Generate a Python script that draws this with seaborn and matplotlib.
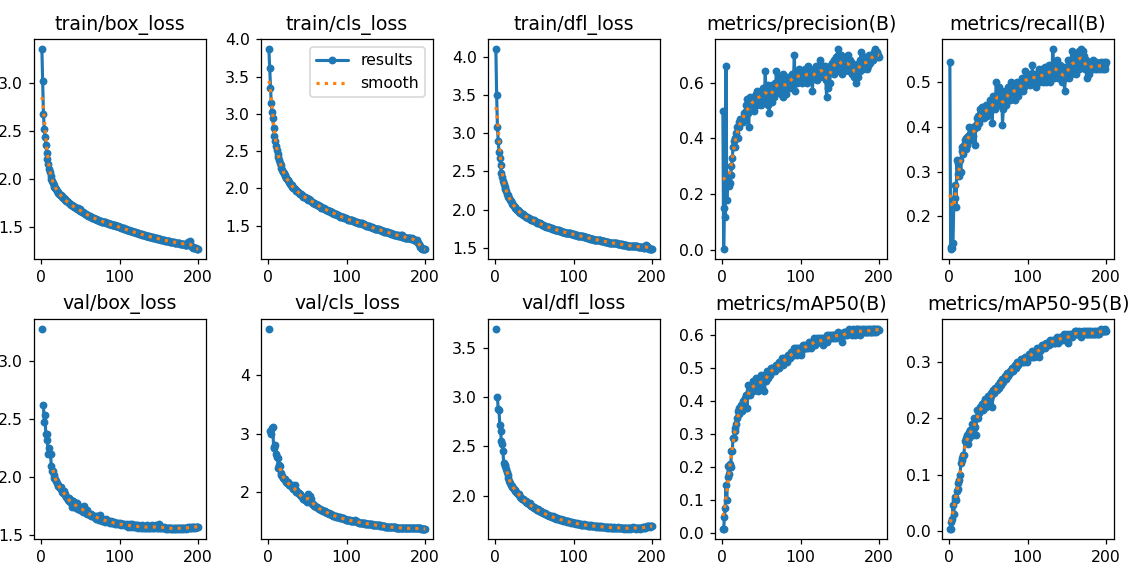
import numpy as np
import pandas as pd
import matplotlib
matplotlib.use("Agg")
import matplotlib.pyplot as plt
import seaborn as sns

nan = np.nan
epochs = list(range(1, 201))

titles = ['train/box_loss', 'train/cls_loss', 'train/dfl_loss', 'metrics/precision(B)', 'metrics/recall(B)',
          'val/box_loss', 'val/cls_loss', 'val/dfl_loss', 'metrics/mAP50(B)', 'metrics/mAP50-95(B)']

train_box_loss = [
    3.35, 3.02, 2.68, 2.52, 2.44, 2.35, 2.27, 2.21, 2.16, 2.11,
    2.07, 2.03, 2.00, 1.98, 1.96, 1.94, 1.92, 1.91, 1.90, 1.88,
    1.87, 1.86, 1.85, 1.84, 1.83, 1.82, 1.81, 1.80, 1.80, 1.79,
    1.78, 1.77, 1.77, 1.76, 1.75, 1.75, 1.74, 1.73, 1.73, 1.72,
    1.72, 1.71, 1.71, 1.70, 1.70, 1.69, 1.70, 1.68, 1.69, 1.67,
    1.67, 1.66, 1.66, 1.65, 1.65, 1.64, 1.64, 1.63, 1.63, 1.62,
    1.62, 1.62, 1.61, 1.61, 1.60, 1.60, 1.60, 1.59, 1.59, 1.59,
    1.58, 1.58, 1.58, 1.57, 1.57, 1.57, 1.56, 1.56, 1.56, 1.55,
    1.55, 1.55, 1.54, 1.54, 1.54, 1.53, 1.53, 1.53, 1.53, 1.52,
    1.52, 1.52, 1.52, 1.52, 1.51, 1.51, 1.51, 1.51, 1.50, 1.50,
    1.50, 1.49, 1.49, 1.49, 1.49, 1.48, 1.48, 1.48, 1.47, 1.47,
    1.47, 1.47, 1.46, 1.46, 1.46, 1.46, 1.45, 1.45, 1.45, 1.45,
    1.44, 1.44, 1.44, 1.44, 1.43, 1.43, 1.43, 1.43, 1.42, 1.42,
    1.42, 1.42, 1.41, 1.41, 1.41, 1.41, 1.41, 1.40, 1.40, 1.40,
    1.40, 1.40, 1.39, 1.39, 1.39, 1.39, 1.39, 1.38, 1.38, 1.38,
    1.38, 1.38, 1.37, 1.37, 1.37, 1.37, 1.37, 1.36, 1.36, 1.36,
    1.36, 1.36, 1.36, 1.35, 1.35, 1.35, 1.35, 1.35, 1.35, 1.34,
    1.34, 1.34, 1.34, 1.34, 1.34, 1.34, 1.33, 1.33, 1.33, 1.33,
    1.33, 1.33, 1.32, 1.32, 1.32, 1.32, 1.35, 1.34, 1.36, 1.33,
    1.31, 1.30, 1.30, 1.29, 1.29, 1.28, 1.28, 1.27, 1.27, 1.27]

train_cls_loss = [
    3.87, 3.62, 3.35, 3.15, 3.03, 2.94, 2.81, 2.70, 2.63, 2.57,
    2.51, 2.46, 2.42, 2.38, 2.34, 2.31, 2.28, 2.25, 2.22, 2.20,
    2.18, 2.16, 2.14, 2.12, 2.11, 2.09, 2.08, 2.06, 2.05, 2.04,
    2.02, 2.01, 2.00, 1.99, 1.98, 1.97, 1.96, 1.95, 1.94, 1.93,
    1.92, 1.92, 1.91, 1.90, 1.89, 1.89, 1.88, 1.87, 1.87, 1.86,
    1.85, 1.86, 1.84, 1.85, 1.83, 1.82, 1.81, 1.81, 1.80, 1.79,
    1.79, 1.78, 1.77, 1.77, 1.76, 1.76, 1.75, 1.74, 1.74, 1.73,
    1.73, 1.72, 1.72, 1.71, 1.71, 1.70, 1.70, 1.69, 1.69, 1.68,
    1.68, 1.67, 1.67, 1.66, 1.66, 1.65, 1.65, 1.64, 1.64, 1.63,
    1.63, 1.62, 1.62, 1.62, 1.61, 1.61, 1.60, 1.60, 1.60, 1.59,
    1.59, 1.58, 1.58, 1.58, 1.57, 1.57, 1.57, 1.56, 1.56, 1.56,
    1.55, 1.55, 1.55, 1.54, 1.54, 1.54, 1.53, 1.53, 1.53, 1.52,
    1.52, 1.52, 1.51, 1.51, 1.50, 1.50, 1.50, 1.49, 1.49, 1.48,
    1.48, 1.48, 1.47, 1.47, 1.47, 1.46, 1.46, 1.46, 1.45, 1.45,
    1.45, 1.44, 1.44, 1.44, 1.43, 1.43, 1.43, 1.42, 1.42, 1.42,
    1.41, 1.41, 1.41, 1.40, 1.40, 1.40, 1.39, 1.39, 1.39, 1.38,
    1.38, 1.38, 1.37, 1.37, 1.37, 1.36, 1.36, 1.36, 1.38, 1.37,
    1.35, 1.35, 1.35, 1.34, 1.34, 1.34, 1.34, 1.33, 1.33, 1.33,
    1.33, 1.32, 1.33, 1.32, 1.32, 1.31, 1.31, 1.30, 1.31, 1.29,
    1.27, 1.25, 1.23, 1.21, 1.20, 1.19, 1.19, 1.18, 1.18, 1.18]

train_dfl_loss = [
    4.10, 3.50, 3.08, 2.90, 2.75, 2.67, 2.58, 2.48, 2.43, 2.38,
    2.34, 2.30, 2.27, 2.24, 2.21, 2.19, 2.17, 2.15, 2.13, 2.11,
    2.09, 2.08, 2.06, 2.05, 2.04, 2.02, 2.01, 2.00, 1.99, 1.98,
    1.97, 1.96, 1.96, 1.95, 1.94, 1.93, 1.93, 1.92, 1.91, 1.91,
    1.90, 1.89, 1.89, 1.88, 1.88, 1.87, 1.87, 1.86, 1.86, 1.85,
    1.85, 1.84, 1.84, 1.83, 1.83, 1.82, 1.82, 1.81, 1.81, 1.80,
    1.80, 1.79, 1.79, 1.79, 1.78, 1.78, 1.77, 1.77, 1.77, 1.76,
    1.76, 1.76, 1.75, 1.75, 1.75, 1.74, 1.74, 1.74, 1.73, 1.73,
    1.73, 1.72, 1.72, 1.72, 1.71, 1.71, 1.71, 1.71, 1.70, 1.70,
    1.70, 1.70, 1.69, 1.69, 1.69, 1.69, 1.68, 1.68, 1.68, 1.68,
    1.67, 1.67, 1.67, 1.67, 1.66, 1.66, 1.66, 1.66, 1.65, 1.65,
    1.65, 1.65, 1.64, 1.64, 1.64, 1.64, 1.63, 1.63, 1.63, 1.63,
    1.62, 1.62, 1.62, 1.62, 1.62, 1.61, 1.61, 1.61, 1.61, 1.60,
    1.60, 1.60, 1.60, 1.60, 1.59, 1.59, 1.59, 1.59, 1.59, 1.58,
    1.58, 1.58, 1.58, 1.58, 1.57, 1.57, 1.57, 1.57, 1.57, 1.56,
    1.56, 1.56, 1.56, 1.56, 1.56, 1.55, 1.55, 1.55, 1.55, 1.55,
    1.55, 1.54, 1.54, 1.54, 1.54, 1.54, 1.54, 1.53, 1.53, 1.53,
    1.53, 1.53, 1.53, 1.53, 1.52, 1.52, 1.52, 1.52, 1.52, 1.52,
    1.52, 1.51, 1.51, 1.51, 1.51, 1.51, 1.51, 1.51, 1.50, 1.50,
    1.53, 1.54, 1.52, 1.50, 1.50, 1.49, 1.49, 1.49, 1.48, 1.48]

precision = [
    0.50, 0.003, 0.15, 0.12, 0.66, 0.18, 0.24, 0.25, 0.23, 0.24,
    0.27, 0.30, 0.33, 0.37, 0.39, 0.40, 0.37, 0.42, 0.44, 0.40,
    0.44, 0.46, 0.47, 0.46, 0.47, 0.47, 0.46, 0.49, 0.47, 0.50,
    0.52, 0.54, 0.49, 0.44, 0.55, 0.54, 0.52, 0.53, 0.55, 0.54,
    0.50, 0.53, 0.56, 0.52, 0.57, 0.55, 0.53, 0.56, 0.57, 0.52,
    0.55, 0.58, 0.53, 0.56, 0.64, 0.55, 0.57, 0.52, 0.59, 0.49,
    0.56, 0.58, 0.53, 0.59, 0.57, 0.55, 0.60, 0.56, 0.64, 0.58,
    0.60, 0.57, 0.62, 0.59, 0.56, 0.61, 0.63, 0.55, 0.60, 0.58,
    0.62, 0.56, 0.60, 0.59, 0.62, 0.60, 0.58, 0.61, 0.63, 0.60,
    0.62, 0.70, 0.57, 0.61, 0.64, 0.60, 0.63, 0.65, 0.61, 0.62,
    0.64, 0.60, 0.63, 0.61, 0.65, 0.62, 0.64, 0.60, 0.63, 0.66,
    0.62, 0.65, 0.61, 0.64, 0.57, 0.63, 0.65, 0.62, 0.66, 0.63,
    0.61, 0.66, 0.64, 0.62, 0.68, 0.65, 0.63, 0.66, 0.62, 0.64,
    0.66, 0.61, 0.55, 0.62, 0.58, 0.64, 0.60, 0.66, 0.64, 0.67,
    0.65, 0.68, 0.63, 0.67, 0.69, 0.64, 0.70, 0.72, 0.66, 0.68,
    0.65, 0.70, 0.63, 0.67, 0.64, 0.69, 0.66, 0.68, 0.65, 0.70,
    0.67, 0.64, 0.68, 0.66, 0.63, 0.67, 0.65, 0.62, 0.66, 0.60,
    0.63, 0.65, 0.62, 0.67, 0.64, 0.68, 0.71, 0.66, 0.65, 0.68,
    0.66, 0.69, 0.67, 0.65, 0.68, 0.66, 0.70, 0.67, 0.69, 0.68,
    0.70, 0.68, 0.71, 0.69, 0.72, 0.70, 0.71, 0.69, 0.70, 0.69]

recall = [
    0.545, 0.13, 0.125, 0.128, 0.14, 0.225, 0.27, 0.24, 0.22, 0.325,
    0.295, 0.32, 0.29, 0.325, 0.30, 0.345, 0.355, 0.34, 0.36, 0.37,
    0.35, 0.375, 0.36, 0.38, 0.37, 0.40, 0.385, 0.39, 0.37, 0.40,
    0.38, 0.395, 0.36, 0.405, 0.42, 0.40, 0.425, 0.41, 0.44, 0.43,
    0.42, 0.445, 0.43, 0.44, 0.42, 0.43, 0.45, 0.425, 0.44, 0.45,
    0.43, 0.46, 0.44, 0.455, 0.41, 0.47, 0.45, 0.46, 0.44, 0.50,
    0.46, 0.48, 0.45, 0.49, 0.47, 0.46, 0.48, 0.405, 0.44, 0.46,
    0.47, 0.45, 0.48, 0.46, 0.49, 0.47, 0.48, 0.46, 0.50, 0.48,
    0.47, 0.49, 0.48, 0.46, 0.49, 0.50, 0.48, 0.47, 0.49, 0.48,
    0.50, 0.49, 0.51, 0.48, 0.50, 0.49, 0.525, 0.51, 0.50, 0.52,
    0.50, 0.51, 0.495, 0.52, 0.50, 0.54, 0.51, 0.50, 0.52, 0.505,
    0.49, 0.52, 0.51, 0.53, 0.50, 0.52, 0.51, 0.53, 0.50, 0.52,
    0.51, 0.535, 0.52, 0.50, 0.53, 0.51, 0.54, 0.52, 0.50, 0.53,
    0.52, 0.575, 0.54, 0.51, 0.53, 0.52, 0.55, 0.53, 0.51, 0.52,
    0.54, 0.51, 0.53, 0.50, 0.52, 0.535, 0.48, 0.51, 0.53, 0.52,
    0.55, 0.53, 0.51, 0.54, 0.52, 0.57, 0.55, 0.53, 0.56, 0.54,
    0.52, 0.565, 0.54, 0.55, 0.57, 0.53, 0.56, 0.575, 0.55, 0.57,
    0.54, 0.56, 0.53, 0.55, 0.51, 0.53, 0.54, 0.52, 0.54, 0.53,
    0.54, 0.53, 0.55, 0.535, 0.54, 0.53, 0.545, 0.53, 0.54, 0.535,
    0.54, 0.53, 0.545, 0.535, 0.54, 0.53, 0.545, 0.53, 0.54, 0.545]

# epoch 2 of the validation losses is missing in the csv
val_box_loss = [
    3.28, nan, 2.62, 2.47, 2.53, 2.37, 2.37, 2.32, 2.20, 2.25,
    2.20, 2.20, 2.09, 2.05, 2.05, 2.02, 1.99, 1.98, 1.96, 1.95,
    1.93, 1.92, 1.91, 1.90, 1.91, 1.88, 1.87, 1.86, 1.88, 1.84,
    1.85, 1.83, 1.82, 1.80, 1.82, 1.79, 1.78, 1.80, 1.74, 1.79,
    1.77, 1.78, 1.75, 1.76, 1.73, 1.77, 1.72, 1.74, 1.71, 1.72,
    1.74, 1.71, 1.70, 1.72, 1.75, 1.70, 1.69, 1.71, 1.68, 1.69,
    1.68, 1.67, 1.68, 1.66, 1.67, 1.66, 1.65, 1.66, 1.65, 1.64,
    1.66, 1.64, 1.65, 1.63, 1.67, 1.63, 1.64, 1.62, 1.63, 1.62,
    1.63, 1.61, 1.64, 1.62, 1.61, 1.62, 1.61, 1.60, 1.62, 1.60,
    1.61, 1.60, 1.61, 1.59, 1.60, 1.60, 1.59, 1.60, 1.59, 1.59,
    1.60, 1.58, 1.59, 1.59, 1.58, 1.59, 1.58, 1.58, 1.59, 1.58,
    1.57, 1.58, 1.59, 1.58, 1.57, 1.59, 1.58, 1.57, 1.58, 1.57,
    1.58, 1.57, 1.56, 1.58, 1.57, 1.57, 1.56, 1.58, 1.57, 1.56,
    1.57, 1.56, 1.57, 1.56, 1.58, 1.56, 1.57, 1.56, 1.57, 1.56,
    1.58, 1.56, 1.57, 1.56, 1.57, 1.58, 1.56, 1.57, 1.56, 1.59,
    1.56, 1.57, 1.56, 1.57, 1.56, 1.56, 1.57, 1.56, 1.55, 1.56,
    1.56, 1.55, 1.56, 1.56, 1.55, 1.56, 1.55, 1.56, 1.55, 1.56,
    1.55, 1.56, 1.55, 1.56, 1.56, 1.55, 1.56, 1.55, 1.56, 1.56,
    1.55, 1.56, 1.56, 1.55, 1.56, 1.56, 1.57, 1.56, 1.56, 1.57,
    1.56, 1.57, 1.56, 1.57, 1.57, 1.56, 1.57, 1.57, 1.57, 1.57]

val_cls_loss = [
    4.80, nan, 3.05, 3.00, 3.10, 3.12, 2.78, 2.76, 2.80, 2.65,
    2.60, 2.58, 2.42, 2.46, 2.45, 2.33, 2.30, 2.27, 2.25, 2.23,
    2.22, 2.20, 2.18, 2.16, 2.17, 2.14, 2.12, 2.13, 2.10, 2.08,
    2.12, 2.06, 2.05, 2.13, 2.03, 2.01, 2.00, 1.98, 1.99, 1.96,
    1.95, 1.93, 1.92, 1.91, 1.89, 1.88, 1.87, 1.86, 1.85, 1.83,
    1.97, 1.93, 1.90, 1.94, 1.88, 1.80, 1.79, 1.78, 1.77, 1.76,
    1.75, 1.74, 1.73, 1.73, 1.72, 1.71, 1.70, 1.70, 1.69, 1.68,
    1.68, 1.67, 1.66, 1.66, 1.65, 1.64, 1.64, 1.63, 1.63, 1.62,
    1.61, 1.61, 1.60, 1.60, 1.59, 1.59, 1.58, 1.58, 1.57, 1.57,
    1.57, 1.56, 1.56, 1.55, 1.55, 1.55, 1.54, 1.54, 1.53, 1.53,
    1.53, 1.52, 1.52, 1.52, 1.51, 1.51, 1.51, 1.50, 1.50, 1.50,
    1.52, 1.50, 1.49, 1.49, 1.49, 1.48, 1.48, 1.48, 1.48, 1.47,
    1.47, 1.47, 1.47, 1.46, 1.46, 1.46, 1.46, 1.45, 1.45, 1.45,
    1.45, 1.45, 1.44, 1.44, 1.44, 1.44, 1.44, 1.43, 1.43, 1.43,
    1.43, 1.43, 1.42, 1.42, 1.42, 1.42, 1.42, 1.42, 1.41, 1.41,
    1.41, 1.41, 1.41, 1.41, 1.40, 1.40, 1.40, 1.40, 1.40, 1.40,
    1.40, 1.40, 1.39, 1.39, 1.39, 1.39, 1.39, 1.39, 1.39, 1.39,
    1.39, 1.39, 1.39, 1.38, 1.38, 1.38, 1.38, 1.38, 1.38, 1.38,
    1.38, 1.38, 1.38, 1.38, 1.38, 1.38, 1.38, 1.38, 1.38, 1.38,
    1.38, 1.38, 1.38, 1.38, 1.37, 1.37, 1.37, 1.37, 1.37, 1.37]

val_dfl_loss = [
    3.70, nan, 3.00, 2.88, 2.87, 2.72, 2.66, 2.56, 2.52, 2.45,
    2.33, 2.31, 2.30, 2.27, 2.24, 2.21, 2.18, 2.15, 2.13, 2.11,
    2.10, 2.09, 2.08, 2.07, 2.06, 2.05, 2.04, 2.03, 2.02, 2.02,
    2.01, 1.99, 1.98, 1.97, 1.96, 1.96, 1.95, 1.94, 1.93, 1.94,
    1.92, 1.92, 1.91, 1.90, 1.92, 1.89, 1.89, 1.88, 1.88, 1.87,
    1.87, 1.86, 1.86, 1.85, 1.86, 1.84, 1.84, 1.83, 1.84, 1.83,
    1.82, 1.82, 1.81, 1.82, 1.81, 1.80, 1.80, 1.80, 1.79, 1.79,
    1.79, 1.78, 1.78, 1.79, 1.77, 1.78, 1.77, 1.76, 1.77, 1.76,
    1.76, 1.76, 1.75, 1.76, 1.75, 1.75, 1.74, 1.75, 1.74, 1.74,
    1.74, 1.73, 1.74, 1.73, 1.73, 1.73, 1.72, 1.73, 1.72, 1.72,
    1.72, 1.72, 1.71, 1.72, 1.71, 1.71, 1.71, 1.71, 1.70, 1.71,
    1.70, 1.70, 1.71, 1.70, 1.70, 1.70, 1.70, 1.69, 1.70, 1.69,
    1.69, 1.70, 1.69, 1.69, 1.69, 1.69, 1.69, 1.68, 1.69, 1.69,
    1.68, 1.69, 1.68, 1.68, 1.69, 1.68, 1.68, 1.68, 1.68, 1.68,
    1.68, 1.67, 1.68, 1.68, 1.67, 1.68, 1.67, 1.68, 1.67, 1.67,
    1.68, 1.67, 1.67, 1.67, 1.67, 1.67, 1.68, 1.67, 1.67, 1.67,
    1.67, 1.67, 1.67, 1.66, 1.67, 1.67, 1.67, 1.66, 1.67, 1.67,
    1.67, 1.66, 1.67, 1.67, 1.67, 1.68, 1.67, 1.67, 1.67, 1.66,
    1.67, 1.67, 1.67, 1.67, 1.66, 1.67, 1.67, 1.68, 1.67, 1.68,
    1.67, 1.68, 1.68, 1.69, 1.69, 1.69, 1.68, 1.69, 1.69, 1.69]

map50 = [
    0.013, 0.013, 0.05, 0.075, 0.145, 0.10, 0.17, 0.205, 0.18, 0.21,
    0.20, 0.25, 0.25, 0.29, 0.29, 0.32, 0.31, 0.33, 0.35, 0.37,
    0.36, 0.38, 0.37, 0.39, 0.37, 0.38, 0.40, 0.39, 0.41, 0.38,
    0.42, 0.38, 0.45, 0.43, 0.44, 0.42, 0.45, 0.44, 0.43, 0.46,
    0.44, 0.45, 0.47, 0.44, 0.46, 0.43, 0.47, 0.45, 0.46, 0.48,
    0.44, 0.46, 0.47, 0.43, 0.48, 0.46, 0.49, 0.47, 0.48, 0.49,
    0.48, 0.50, 0.49, 0.50, 0.49, 0.50, 0.50, 0.49, 0.51, 0.50,
    0.51, 0.50, 0.52, 0.51, 0.52, 0.53, 0.51, 0.52, 0.53, 0.52,
    0.53, 0.53, 0.52, 0.54, 0.53, 0.54, 0.53, 0.55, 0.54, 0.54,
    0.56, 0.54, 0.55, 0.56, 0.55, 0.54, 0.56, 0.55, 0.56, 0.54,
    0.55, 0.56, 0.57, 0.56, 0.56, 0.57, 0.56, 0.57, 0.56, 0.57,
    0.58, 0.57, 0.56, 0.58, 0.57, 0.58, 0.59, 0.57, 0.58, 0.58,
    0.59, 0.58, 0.58, 0.59, 0.58, 0.59, 0.58, 0.57, 0.59, 0.58,
    0.59, 0.59, 0.60, 0.58, 0.59, 0.60, 0.59, 0.59, 0.60, 0.59,
    0.60, 0.59, 0.60, 0.60, 0.59, 0.60, 0.60, 0.61, 0.60, 0.60,
    0.59, 0.60, 0.58, 0.60, 0.61, 0.60, 0.61, 0.61, 0.60, 0.61,
    0.61, 0.62, 0.61, 0.61, 0.60, 0.61, 0.62, 0.61, 0.60, 0.62,
    0.61, 0.62, 0.61, 0.62, 0.61, 0.60, 0.61, 0.62, 0.61, 0.61,
    0.62, 0.61, 0.61, 0.62, 0.61, 0.61, 0.62, 0.61, 0.61, 0.62,
    0.61, 0.62, 0.61, 0.62, 0.62, 0.61, 0.62, 0.62, 0.615, 0.615]

map50_95 = [
    0.003, 0.003, 0.015, 0.02, 0.045, 0.03, 0.055, 0.06, 0.055, 0.07,
    0.085, 0.075, 0.09, 0.10, 0.12, 0.125, 0.13, 0.135, 0.135, 0.16,
    0.16, 0.165, 0.17, 0.155, 0.175, 0.165, 0.18, 0.175, 0.19, 0.17,
    0.19, 0.20, 0.185, 0.17, 0.20, 0.215, 0.20, 0.21, 0.22, 0.215,
    0.22, 0.225, 0.215, 0.23, 0.225, 0.235, 0.22, 0.235, 0.24, 0.23,
    0.24, 0.235, 0.245, 0.24, 0.22, 0.25, 0.245, 0.255, 0.25, 0.255,
    0.25, 0.26, 0.255, 0.26, 0.265, 0.26, 0.265, 0.27, 0.265, 0.27,
    0.275, 0.27, 0.275, 0.28, 0.275, 0.28, 0.285, 0.28, 0.285, 0.29,
    0.285, 0.29, 0.29, 0.295, 0.29, 0.295, 0.30, 0.295, 0.30, 0.30,
    0.305, 0.30, 0.30, 0.305, 0.30, 0.305, 0.31, 0.305, 0.30, 0.31,
    0.31, 0.315, 0.31, 0.315, 0.31, 0.32, 0.315, 0.31, 0.32, 0.315,
    0.32, 0.325, 0.32, 0.31, 0.325, 0.32, 0.325, 0.33, 0.325, 0.33,
    0.33, 0.325, 0.33, 0.335, 0.33, 0.335, 0.33, 0.335, 0.34, 0.335,
    0.335, 0.34, 0.335, 0.34, 0.335, 0.34, 0.345, 0.34, 0.335, 0.34,
    0.345, 0.34, 0.345, 0.34, 0.345, 0.35, 0.345, 0.34, 0.345, 0.35,
    0.345, 0.335, 0.345, 0.35, 0.345, 0.35, 0.345, 0.35, 0.35, 0.355,
    0.35, 0.355, 0.35, 0.35, 0.355, 0.35, 0.35, 0.345, 0.35, 0.355,
    0.35, 0.35, 0.355, 0.35, 0.355, 0.35, 0.35, 0.355, 0.35, 0.35,
    0.355, 0.35, 0.35, 0.355, 0.35, 0.35, 0.355, 0.35, 0.35, 0.355,
    0.35, 0.355, 0.355, 0.36, 0.355, 0.355, 0.355, 0.36, 0.355, 0.355]

series = [train_box_loss, train_cls_loss, train_dfl_loss, precision, recall,
          val_box_loss, val_cls_loss, val_dfl_loss, map50, map50_95]


def gauss_smooth(y, sigma=3):
    # same as scipy gaussian_filter1d (mode='reflect'), nans spread like scipy
    r = int(4 * sigma + 0.5)
    k = np.exp(-0.5 * (np.arange(-r, r + 1) / sigma) ** 2)
    k = k / k.sum()
    yp = np.pad(np.asarray(y, dtype=float), r, mode='symmetric')
    return np.convolve(yp, k, mode='valid')


sns.set_style('ticks', {'axes.edgecolor': 'black', 'text.color': 'black', 'axes.labelcolor': 'black',
                        'xtick.color': 'black', 'ytick.color': 'black',
                        'xtick.top': False, 'ytick.right': False})
plt.rcParams['font.family'] = ['DejaVu Sans']

dpi = 113
fig, axes = plt.subplots(2, 5, figsize=(1135 / dpi, 574 / dpi), dpi=dpi)
fig.subplots_adjust(left=0.030, right=0.9815, top=0.932, bottom=0.061, wspace=0.32, hspace=0.268)
axes = axes.ravel()

for i, (ax, title, y) in enumerate(zip(axes, titles, series)):
    y = np.asarray(y, dtype=float)
    seg = np.cumsum(np.isnan(y))  # break the line where a value is missing
    df = pd.DataFrame({'epoch': epochs, 'value': y, 'seg': seg})
    lab = 'results' if i == 1 else None
    sns.lineplot(data=df, x='epoch', y='value', units='seg', estimator=None, ax=ax,
                 marker='.', markersize=8, linewidth=2, color='C0',
                 markeredgecolor='C0', markeredgewidth=1.0, label=lab)
    sm = pd.DataFrame({'epoch': epochs, 'value': gauss_smooth(y)})
    sns.lineplot(data=sm, x='epoch', y='value', ax=ax, linestyle=':', linewidth=2,
                 color='C1', label='smooth' if i == 1 else None)
    ax.set_title(title, fontsize=12)
    ax.set_xlabel('')
    ax.set_ylabel('')
    if i != 1 and ax.get_legend() is not None:
        ax.get_legend().remove()

axes[1].legend(loc='upper right')
fig.savefig('out.png', dpi=dpi)
